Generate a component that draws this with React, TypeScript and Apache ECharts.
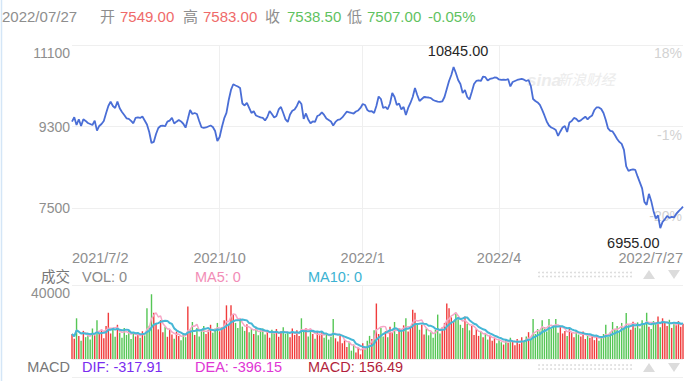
import React, { useEffect, useRef } from "react";
import * as echarts from "echarts";

// ---------------- data ----------------
const CLOSE: number[] = [
  9410, 9507, 9337, 9463, 9315, 9463, 9426, 9380, 9359, 9337,
  9432, 9212, 9315, 9359, 9426, 9595, 9756, 9851, 9756, 9712,
  9851, 9705, 9624, 9558, 9485, 9470, 9426, 9375, 9492, 9503,
  9492, 9525, 9437, 9348, 9183, 8941, 8963, 9139, 9271, 9315,
  9322, 9309, 9410, 9432, 9496, 9370, 9410, 9448, 9415, 9364,
  9278, 9470, 9668, 9580, 9602, 9580, 9426, 9287, 9271, 9282,
  9304, 9326, 9293, 9205, 8985, 9073, 9293, 9481, 9602, 9888,
  10109, 10234, 10208, 10186, 10153, 9811, 9767, 9822, 9712, 9602,
  9639, 9547, 9525, 9503, 9492, 9437, 9514, 9646, 9580, 9503,
  9536, 9679, 9734, 9602, 9459, 9404, 9569, 9652, 9679, 9756,
  9866, 9800, 9470, 9591, 9459, 9377, 9415, 9404, 9536, 9558,
  9613, 9558, 9481, 9448, 9415, 9326, 9404, 9448, 9459, 9503,
  9569, 9630, 9617, 9602, 9590, 9635, 9657, 9712, 9800, 9778,
  9668, 9635, 9640, 9602, 9756, 9965, 9910, 9712, 9734, 9683,
  9811, 10042, 9954, 9778, 9811, 9679, 9734, 9558, 9712, 9822,
  9954, 10153, 9998, 9866, 9910, 9954, 9948, 9943, 9928, 9888,
  9866, 9851, 9845, 9855, 9954, 10131, 10307, 10439, 10615, 10483,
  10329, 10241, 10042, 10109, 9954, 9899, 10065, 10241, 10307, 10318,
  10307, 10406, 10390, 10318, 10351, 10362, 10384, 10379, 10340, 10329,
  10335, 10329, 10351, 10186, 10285, 10307, 10329, 10340, 10351, 10335,
  10307, 10329, 10197, 9910, 9866, 9833, 9778, 9668, 9547, 9415,
  9326, 9282, 9260, 9227, 9095, 9194, 9282, 9315, 9183, 9393,
  9426, 9492, 9470, 9415, 9437, 9481, 9520, 9459, 9514, 9547,
  9668, 9727, 9723, 9690, 9602, 9448, 9260, 9205, 9194, 9117,
  9029, 8963, 8919, 8787, 8425, 8324, 8346, 8357, 8346, 8203,
  8071, 7939, 7641, 7575, 7818, 7663, 7443, 7278, 7344, 7062,
  7201, 7256, 7333, 7289, 7311, 7300, 7377, 7432, 7480, 7538.5,
];

const VOLUME: number[] = [
  13500, 11000, 22000, 12500, 9800, 15200, 11800, 14000, 10500, 16500,
  12800, 21000, 13500, 15500, 11200, 17800, 25000, 13800, 16200, 12000,
  18500, 14200, 11500, 16800, 13000, 15500, 10800, 14500, 12200, 13800,
  11500, 15000, 12800, 27500, 18000, 35000, 25000, 19500, 16000, 21000,
  14500, 17500, 12000, 15800, 13200, 11000, 14800, 12500, 10200, 13600,
  11800, 28400, 15500, 20000, 13000, 16800, 12200, 15000, 17800, 13500,
  15800, 18500, 14200, 16500, 19500, 15000, 17200, 21000, 29000, 18500,
  29000, 24000, 19500, 16800, 20500, 17500, 15200, 18800, 14500, 16200,
  13500, 17500, 12800, 15500, 16500, 13200, 14800, 11500, 15800, 13800,
  16200, 12000, 15000, 17200, 13500, 14200, 11800, 16500, 13000, 15500,
  12500, 22000, 14800, 16800, 12200, 16000, 13500, 11000, 14500, 12800,
  15200, 11500, 13800, 10500, 12000, 21600, 11200, 9500, 12500, 8500,
  10200, 6500, 9000, 4500, 7800, 3500, 6000, 2500, 8500, 5500,
  9800, 12500, 10800, 15500, 30000, 13500, 16800, 12200, 15000, 11800,
  17500, 14200, 20000, 13500, 16800, 15200, 18200, 22000, 14800, 17000,
  26600, 25000, 19500, 15800, 18500, 13200, 16500, 12800, 14500, 11500,
  15800, 24000, 13800, 17200, 19500, 30000, 27500, 22500, 20500, 25000,
  21500, 18500, 16800, 23000, 19000, 15500, 17800, 13000, 16200, 12500,
  14800, 11800, 13500, 10500, 12800, 9800, 11200, 8500, 10200, 9000,
  7800, 10500, 8800, 11500, 9200, 7500, 10800, 8200, 11800, 9500,
  12200, 14500, 10800, 21600, 13500, 16200, 15000, 21000, 17200, 14800,
  21600, 16500, 18200, 21600, 14200, 17500, 13800, 15200, 12500, 16800,
  14000, 11800, 15500, 13200, 12200, 14800, 10800, 13000, 11500, 12800,
  10200, 12500, 9800, 11800, 13500, 18500, 12000, 14500, 20000, 15800,
  17800, 15200, 19500, 16500, 24800, 18200, 15800, 20200, 17000, 19800,
  16500, 21000, 18800, 25000, 17500, 16200, 20500, 18800, 23000, 17200,
  22000, 19500, 17800, 21200, 16800, 19800, 18200, 20500, 17500, 19000,
];

const X_TICK_INDEX = [0, 65, 128, 188, 269];
const X_TICK_LABELS = ["2021/7/2", "2021/10", "2022/1", "2022/4", "2022/7/27"];
const PRICE_MIN = 6515;
const PRICE_MAX = 11100;
const PRICE_TICKS = [7500, 9300, 11100];
const PRICE_TICK_LABELS = ["7500", "9300", "11100"];
const PCT_TICK_LABELS = ["-20%", "-1%", "18%"];
const VOL_MAX = 40000;
const VOL_TICKS = [0, 40000];
const VOL_LABEL_TICKS = [40000];
const VOL_TICK_LABELS = ["40000"];
const HIGH_TEXT = "10845.00";
const LOW_TEXT = "6955.00";
const HEADER_TEXTS = ["2022/07/27", "开", "7549.00", "高", "7583.00", "收", "7538.50", "低", "7507.00", "-0.05%"];
const VOL_LEGEND = ["成交", "VOL: 0", "MA5: 0", "MA10: 0"];
const MACD_LEGEND = ["MACD", "DIF: -317.91", "DEA: -396.15", "MACD: 156.49"];

// ---------------- styles / layout ----------------
const FONT = '"Liberation Sans", Arial, "Noto Sans CJK SC", sans-serif';
const GREY = "#8e8e8e";
const UP = "#f03c3c";
const DOWN = "#55c655";
const GRID_LINE = "#efefef";
const HEADER_X = [2, 100, 120, 183, 203, 265, 287, 347, 367, 428];
const HEADER_COLORS = [GREY, GREY, "#ef6a6a", GREY, "#ef6a6a", GREY, "#5fc25f", GREY, "#5fc25f", "#5fc25f"];
const LEGEND_X = [70, 82, 195, 308];
const VOL_LEGEND_COLORS = ["#777", "#8a8a8a", "#f28db6", "#3cb2d2"];
const MACD_LEGEND_COLORS = ["#777", "#7a2cef", "#e036d4", "#b21f3c"];

function movingAverage(data: number[], n: number): number[] {
  return data.map((_, i) => {
    const s = Math.max(0, i - n + 1);
    let sum = 0;
    for (let k = s; k <= i; k++) sum += data[k];
    return Math.round(sum / (i - s + 1));
  });
}

function txt(x: number, y: number, text: string, fill: string, size: number, align = "left", extra: any = {}) {
  return {
    type: "text",
    x,
    y,
    silent: true,
    style: { text, fill, fontSize: size, fontFamily: FONT, align, verticalAlign: "middle", ...extra },
  };
}

function buildGraphics() {
  const g: any[] = [];
  g.push({ type: "line", shape: { x1: 1.5, y1: 0, x2: 1.5, y2: 381 }, style: { stroke: "#d4e6f7", lineWidth: 1.5 }, silent: true });
  HEADER_TEXTS.forEach((t, i) => g.push(txt(HEADER_X[i], 16, t, HEADER_COLORS[i], 15)));
  // watermark
  g.push(txt(527, 80, "sina", "#ececec", 17, "left", { fontStyle: "italic", fontWeight: "bold" }));
  g.push(txt(557, 80, "新浪财经", "#ececec", 14.5, "left", { fontStyle: "italic" }));
  // legend rows
  VOL_LEGEND.forEach((t, i) => g.push(txt(LEGEND_X[i], 276.5, t, VOL_LEGEND_COLORS[i], 14.5, i === 0 ? "right" : "left")));
  MACD_LEGEND.forEach((t, i) => g.push(txt(LEGEND_X[i], 367, t, MACD_LEGEND_COLORS[i], 14.5, i === 0 ? "right" : "left")));
  // dotted controls and arrows
  [[272.5, 276.5], [365, 369]].forEach((rows) => {
    rows.forEach((yy) => {
      for (let xx = 539; xx <= 633; xx += 4) {
        g.push({ type: "circle", shape: { cx: xx, cy: yy, r: 0.9 }, style: { fill: "#dadada" }, silent: true });
      }
    });
  });
  [[270, 279], [363, 372]].forEach(([t, b]) => {
    g.push({ type: "polygon", shape: { points: [[643, b], [649, t], [655, b]] }, style: { fill: "#dcdcdc" }, silent: true });
    g.push({ type: "polygon", shape: { points: [[668, t], [680, t], [674, b]] }, style: { fill: "#dcdcdc" }, silent: true });
  });
  g.push({ type: "line", shape: { x1: 72, y1: 377.5, x2: 683, y2: 377.5 }, style: { stroke: GRID_LINE, lineWidth: 1 }, silent: true });
  return g;
}

export default function App() {
  const ref = useRef<HTMLDivElement>(null);
  useEffect(() => {
    document.body.style.margin = "0";
    if (!ref.current) return;
    const chart = echarts.init(ref.current, undefined, { renderer: "svg" });
    const cats = CLOSE.map((_, i) => String(i));
    const colors = CLOSE.map((v, i) => (i === 0 || v >= CLOSE[i - 1] ? UP : DOWN));
    let maxIdx = 0;
    let minIdx = 0;
    CLOSE.forEach((v, i) => {
      if (v > CLOSE[maxIdx]) maxIdx = i;
      if (v < CLOSE[minIdx]) minIdx = i;
    });
    const midTicks = X_TICK_INDEX.slice(1, -1);
    const xBase = {
      type: "category",
      data: cats,
      boundaryGap: false,
      axisLine: { show: false },
      axisTick: { show: false },
      splitLine: { show: true, interval: (idx: number) => midTicks.includes(idx), lineStyle: { color: GRID_LINE } },
    };
    const option: any = {
      animation: false,
      textStyle: { fontFamily: FONT },
      grid: [
        { left: 72, right: 9, top: 45, height: 208 },
        { left: 72, right: 9, top: 285, height: 74 },
      ],
      xAxis: [
        {
          ...xBase,
          gridIndex: 0,
          axisLabel: {
            interval: (idx: number) => X_TICK_INDEX.includes(idx),
            formatter: (_v: string, idx: number) => X_TICK_LABELS[X_TICK_INDEX.indexOf(idx)] ?? "",
            color: GREY,
            fontSize: 14.5,
            margin: -2,
            alignMinLabel: "left",
            alignMaxLabel: "right",
          },
        },
        { ...xBase, gridIndex: 1, axisLabel: { show: false } },
      ],
      yAxis: [
        {
          type: "value",
          gridIndex: 0,
          min: PRICE_MIN,
          max: PRICE_MAX,
          axisLine: { show: false },
          axisTick: { show: false, customValues: PRICE_TICKS },
          axisLabel: {
            customValues: PRICE_TICKS,
            color: GREY,
            fontSize: 14,
            margin: 2,
            formatter: (v: number) => {
              const s = PRICE_TICK_LABELS[PRICE_TICKS.indexOf(v)] ?? "";
              return v === PRICE_MAX ? `{top|${s}}` : s;
            },
            rich: { top: { color: GREY, fontSize: 14, padding: [15, 0, 0, 0] } },
          },
          splitLine: { show: true, lineStyle: { color: GRID_LINE } },
        },
        {
          type: "value",
          gridIndex: 0,
          position: "right",
          min: PRICE_MIN,
          max: PRICE_MAX,
          axisLine: { show: false },
          axisTick: { show: false, customValues: PRICE_TICKS },
          splitLine: { show: false },
          axisLabel: {
            inside: true,
            customValues: PRICE_TICKS,
            color: "#d2d2d2",
            fontSize: 14,
            margin: 1,
            verticalAlign: "top",
            padding: [1, 0, 0, 0],
            formatter: (v: number) => PCT_TICK_LABELS[PRICE_TICKS.indexOf(v)] ?? "",
          },
        },
        {
          type: "value",
          gridIndex: 1,
          min: 0,
          max: VOL_MAX,
          axisLine: { show: false },
          axisTick: { show: false, customValues: VOL_TICKS },
          axisLabel: {
            customValues: VOL_LABEL_TICKS,
            color: GREY,
            fontSize: 14,
            margin: 2,
            formatter: (v: number) => `{top|${VOL_TICK_LABELS[VOL_LABEL_TICKS.indexOf(v)] ?? ""}}`,
            rich: { top: { color: GREY, fontSize: 14, padding: [15, 0, 0, 0] } },
          },
          splitLine: { show: true, lineStyle: { color: GRID_LINE } },
        },
      ],
      series: [
        {
          type: "line",
          xAxisIndex: 0,
          yAxisIndex: 0,
          data: CLOSE,
          symbol: "none",
          lineStyle: { color: "#4a6ed6", width: 1.8 },
          z: 5,
          markPoint: {
            symbol: "circle",
            symbolSize: 1,
            itemStyle: { color: "rgba(0,0,0,0)" },
            label: { show: true, position: "inside", color: "#262626", fontSize: 14.5, fontFamily: FONT },
            data: [
              { name: "high", coord: [maxIdx, CLOSE[maxIdx]], label: { formatter: HIGH_TEXT, offset: [4.5, -16] } },
              { name: "low", coord: [minIdx, CLOSE[minIdx]], label: { formatter: LOW_TEXT, offset: [-27, 15] } },
            ],
          },
        },
        {
          type: "bar",
          xAxisIndex: 1,
          yAxisIndex: 2,
          barWidth: "62%",
          data: VOLUME.map((v, i) => ({ value: v, itemStyle: { color: colors[i] } })),
        },
        {
          type: "line",
          xAxisIndex: 1,
          yAxisIndex: 2,
          data: movingAverage(VOLUME, 5),
          symbol: "none",
          lineStyle: { color: "#f6a6c6", width: 1.5 },
        },
        {
          type: "line",
          xAxisIndex: 1,
          yAxisIndex: 2,
          data: movingAverage(VOLUME, 10),
          symbol: "none",
          lineStyle: { color: "#45b7d6", width: 2 },
        },
      ],
      graphic: buildGraphics(),
    };
    chart.setOption(option);
    return () => chart.dispose();
  }, []);
  return <div ref={ref} style={{ position: "fixed", left: 0, top: 0, width: 692, height: 381, background: "#fff" }} />;
}
